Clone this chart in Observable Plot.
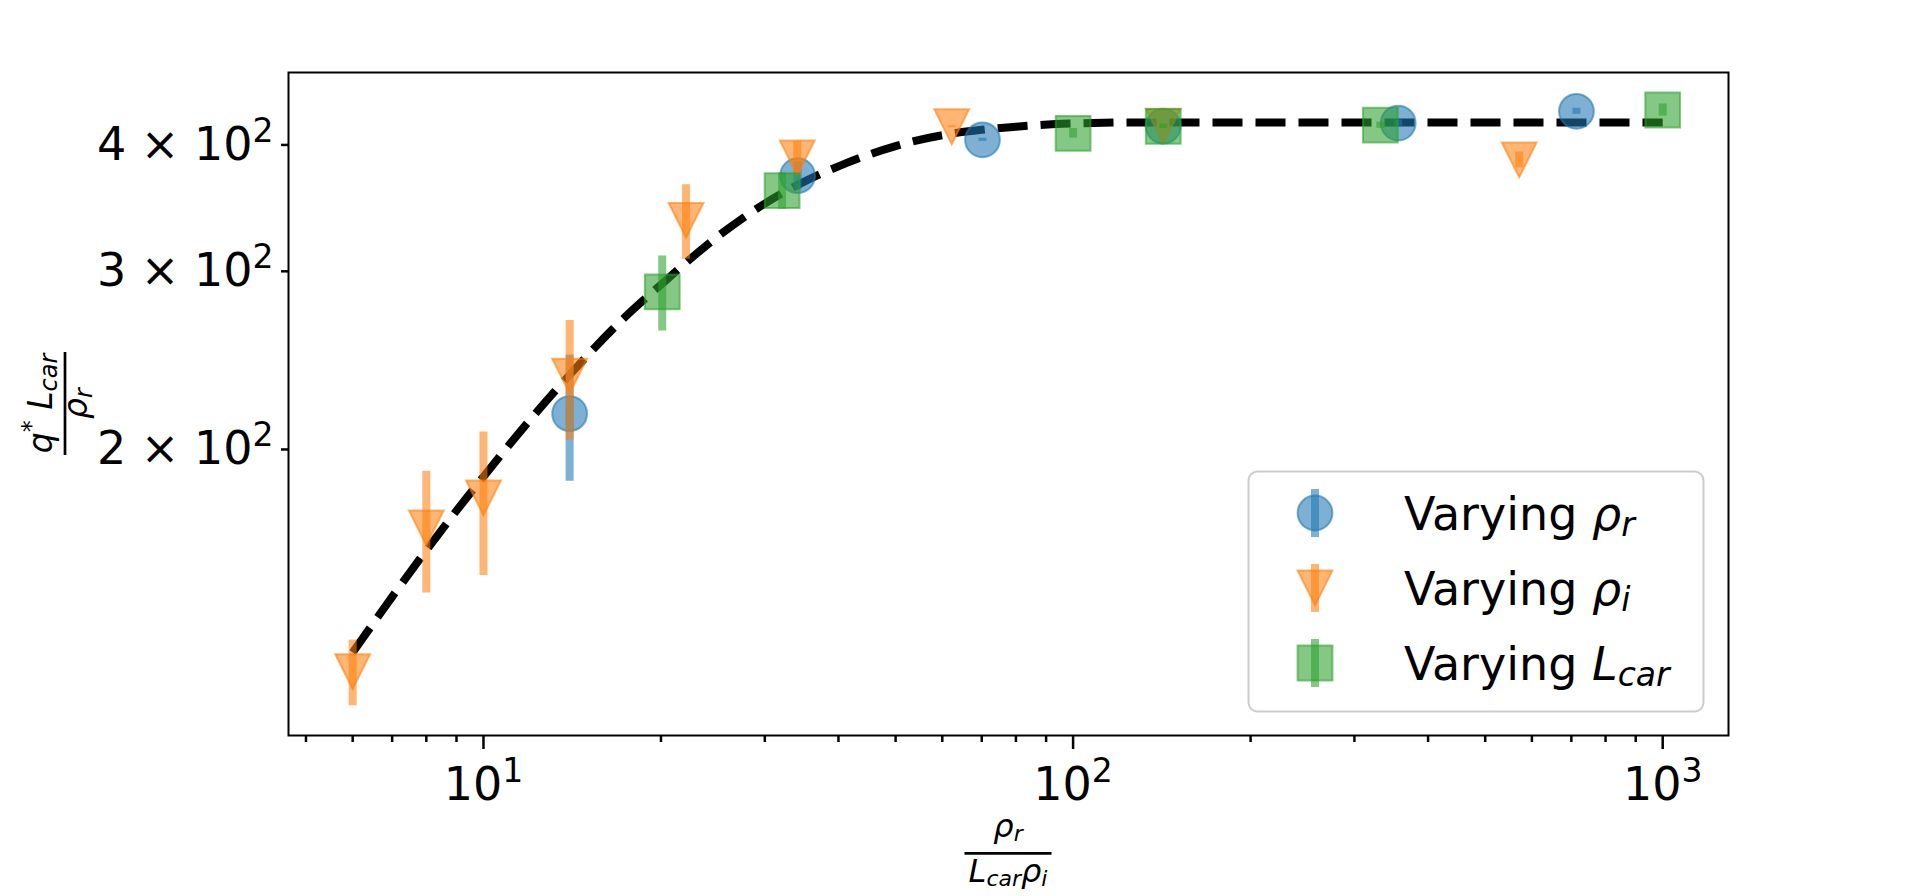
<!DOCTYPE html>
<html>
<head>
<meta charset="utf-8">
<script src="https://cdn.jsdelivr.net/npm/d3@7"></script>
<script src="https://cdn.jsdelivr.net/npm/@observablehq/plot@0.6"></script>
<style>
  html, body { margin: 0; padding: 0; background: #ffffff; }
  #chart svg { display: block; font-family: "DejaVu Sans", sans-serif; }
</style>
</head>
<body>
<div id="chart"></div>
<script>
// ---------- data ----------
const seriesNames = ["Varying ρr", "Varying ρi", "Varying Lcar"];

// Varying rho_r (blue circles)
const blueX   = [14.0, 34.1, 70.2, 142.2, 356, 714];
const blueY   = [217, 373, 404.7, 417.5, 420.4, 431.8];
const blueErr = [31, 12, 1.5, 2, 3, 3];

// Varying rho_i (orange down-triangles)
const orangeX   = [6.0, 8.0, 10.0, 14.0, 22.06, 34.06, 62.25, 142.2, 571];
const orangeY   = [120.6, 167.3, 179.1, 236.3, 336.9, 388.3, 416.9, 417.5, 386.6];
const orangeErr = [9, 23, 29, 32, 28.5, 15, 1, 2, 7];

// Varying L_car (green squares)
const greenX   = [20.1, 32.1, 100, 142.2, 332, 1000];
const greenY   = [286.3, 360.5, 410.7, 417.3, 418.4, 433.1];
const greenErr = [24.4, 15, 4.5, 2, 3, 6];

// dashed fit curve
const fitX = [6, 7, 8, 9, 10, 12, 14, 17, 20, 25, 30, 35, 40, 50, 60, 70, 80, 100, 130, 200, 400, 1000];
const fitY = [126, 143, 159, 174, 188, 214, 237, 267, 291, 325, 350, 368, 381, 399, 409, 414, 417, 420, 421, 421, 421, 421];

// ticks
const xMajorTicks = [10, 100, 1000];
const xMinorTicks = [5, 6, 7, 8, 9, 20, 30, 40, 50, 60, 70, 80, 90, 200, 300, 400, 500, 600, 700, 800, 900];
const yTicks = [200, 300, 400];

// colours
const blueColor = "#1f77b4";
const orangeColor = "#ff7f0e";
const greenColor = "#2ca02c";

// ---------- build ----------
const rows = (xs, ys, es) => xs.map((x, i) => ({x, y: ys[i], e: es[i]}));
const blue = rows(blueX, blueY, blueErr);
const orange = rows(orangeX, orangeY, orangeErr);
const green = rows(greenX, greenY, greenErr);
const fit = fitX.map((x, i) => ({x, y: fitY[i]}));

const triDown = {draw(ctx, size) { const r = Math.sqrt(size / Math.PI); ctx.moveTo(0, r); ctx.lineTo(-r, -r); ctx.lineTo(r, -r); ctx.closePath(); }};
const squareSym = {draw(ctx, size) { const r = Math.sqrt(size / Math.PI); ctx.moveTo(-r, -r); ctx.lineTo(r, -r); ctx.lineTo(r, r); ctx.lineTo(-r, r); ctx.closePath(); }};

const A = 0.58;
const R = 17.4;
function seriesMarks(data, color, symbol) {
  return [
    Plot.ruleX(data, {x: "x", y1: d => d.y - d.e, y2: d => d.y + d.e, stroke: color, strokeWidth: 8, strokeOpacity: A}),
    Plot.dot(data, {x: "x", y: "y", r: R, symbol, fill: color, fillOpacity: A, stroke: color, strokeOpacity: A, strokeWidth: 2})
  ];
}

const plot = Plot.plot({
  width: 1920,
  height: 896,
  marginLeft: 288,
  marginRight: 192,
  marginTop: 72,
  marginBottom: 161,
  style: {fontFamily: "DejaVu Sans", fontSize: "46px", background: "white", color: "black", overflow: "visible"},
  x: {type: "log", domain: [4.67, 1293]},
  y: {type: "log", domain: [104.3, 471.7]},
  marks: [
    Plot.line(fit, {x: "x", y: "y", stroke: "black", strokeWidth: 8, strokeDasharray: "30,13", strokeLinecap: "butt", curve: "monotone-x"}),
    ...seriesMarks(blue, blueColor, "circle"),
    ...seriesMarks(orange, orangeColor, triDown),
    ...seriesMarks(green, greenColor, squareSym),
    Plot.frame({stroke: "black", strokeWidth: 2}),
    Plot.axisY({ticks: yTicks, tickSize: 7, tickPadding: 8, strokeWidth: 2.5, label: null,
                tickFormat: d => `${Math.round(d / 100)} × 10^2`}),
    Plot.axisX({ticks: xMajorTicks, tickSize: 14, tickPadding: 18, strokeWidth: 2.5, label: null,
                tickFormat: d => `10^${Math.round(Math.log10(d))}`}),
    Plot.axisX({ticks: xMinorTicks, tickSize: 7, strokeWidth: 2.5, label: null, tickFormat: () => ""})
  ]
});
document.getElementById("chart").appendChild(plot);

const svg = d3.select(plot);

// superscripts in tick labels
svg.selectAll("text").each(function () {
  const t = this.textContent;
  if (t.includes("^")) {
    const [base, exp] = t.split("^");
    const s = d3.select(this);
    s.text(base);
    s.append("tspan").attr("font-size", "33px").attr("dy", "-18px").text(exp);
  }
});

// helper to write math-like text: parts = [[text, kind]] kind: n normal, i italic, sub, sup
function mathText(sel, parts, size, subSize) {
  parts.forEach(([txt, kind]) => {
    const ts = sel.append("tspan").text(txt);
    if (kind === "i") ts.attr("font-style", "italic");
    if (kind === "sub") ts.attr("font-style", "italic").attr("font-size", subSize + "px").attr("baseline-shift", (-0.14 * size) + "px");
    if (kind === "sup") ts.attr("font-size", subSize + "px").attr("baseline-shift", (0.4 * size) + "px");
  });
}

// x-axis label: rho_r / (L_car rho_i)
const xl = svg.append("g").attr("transform", "translate(1008,0)");
mathText(xl.append("text").attr("text-anchor", "middle").attr("y", 837).attr("font-size", "32px"),
  [["ρ", "i"], ["r", "sub"]], 32, 22);
xl.append("line").attr("x1", -43.5).attr("x2", 43.5).attr("y1", 853.3).attr("y2", 853.3).attr("stroke", "black").attr("stroke-width", 2.7);
mathText(xl.append("text").attr("text-anchor", "middle").attr("y", 881.7).attr("font-size", "32px"),
  [["L", "i"], ["car", "sub"], ["ρ", "i"], ["i", "sub"]], 32, 22);

// y-axis label: q* L_car / rho_r (rotated)
const yl = svg.append("g").attr("transform", "translate(65,403.5) rotate(-90)");
mathText(yl.append("text").attr("text-anchor", "middle").attr("y", -13).attr("font-size", "33px"),
  [["q", "i"], ["*", "sup"], [" ", "n"], ["L", "i"], ["car", "sub"]], 33, 24);
yl.append("line").attr("x1", -51.5).attr("x2", 51.5).attr("y1", 0).attr("y2", 0).attr("stroke", "black").attr("stroke-width", 2.7);
mathText(yl.append("text").attr("text-anchor", "middle").attr("y", 22).attr("font-size", "33px"),
  [["ρ", "i"], ["r", "sub"]], 33, 24);

// legend
const lg = svg.append("g").attr("text-anchor", "start");
lg.append("rect").attr("x", 1248.5).attr("y", 471.5).attr("width", 455).attr("height", 240).attr("rx", 9)
  .attr("fill", "white").attr("fill-opacity", 0.8).attr("stroke", "#cccccc").attr("stroke-width", 2);
const legendEntries = [
  {name: seriesNames[0], color: blueColor, sym: d3.symbolCircle, parts: [["Varying ", "n"], ["ρ", "i"], ["r", "sub"]]},
  {name: seriesNames[1], color: orangeColor, sym: triDown, parts: [["Varying ", "n"], ["ρ", "i"], ["i", "sub"]]},
  {name: seriesNames[2], color: greenColor, sym: squareSym, parts: [["Varying ", "n"], ["L", "i"], ["car", "sub"]]}
];
legendEntries.forEach((e, i) => {
  const cy = 513 + i * 75;
  const g = lg.append("g").attr("transform", `translate(1315,${cy})`);
  g.append("line").attr("x1", 0).attr("x2", 0).attr("y1", -24).attr("y2", 24)
    .attr("stroke", e.color).attr("stroke-width", 8).attr("stroke-opacity", A);
  g.append("path").attr("d", d3.symbol(e.sym, Math.PI * R * R)())
    .attr("fill", e.color).attr("fill-opacity", A).attr("stroke", e.color).attr("stroke-opacity", A).attr("stroke-width", 2);
  mathText(lg.append("text").attr("text-anchor", "start").attr("x", 1404).attr("y", cy + 16.5).attr("font-size", "46px").attr("fill", "black"),
    e.parts, 46, 33);
});
</script>
</body>
</html>
